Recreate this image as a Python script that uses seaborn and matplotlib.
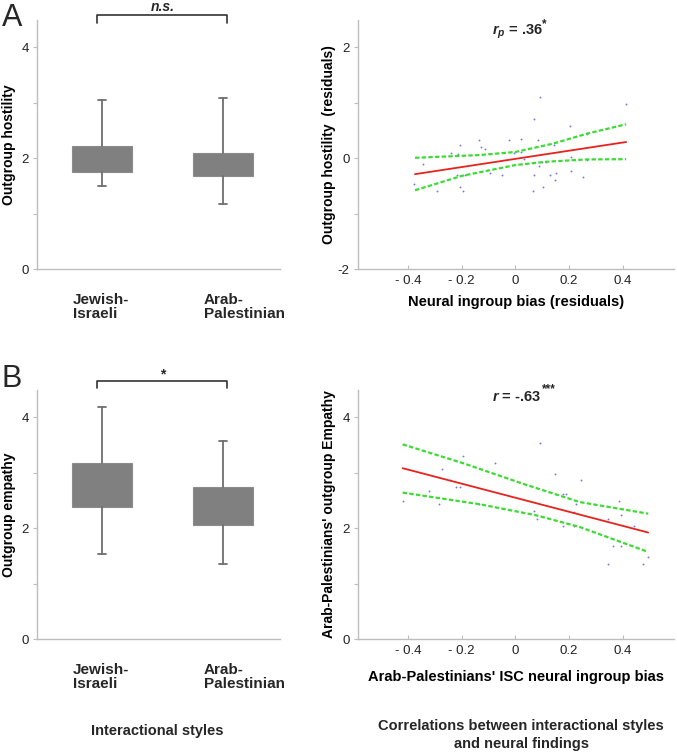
"""Interactional styles (box summaries) and their correlations with neural ingroup bias."""

import numpy as np
import pandas as pd
import matplotlib
matplotlib.use("Agg")
import matplotlib.pyplot as plt
import matplotlib.transforms as mtransforms
import seaborn as sns

# ── data ───────────────────────────────────────────────────────────────────────

groups = ["Jewish-\nIsraeli", "Arab-\nPalestinian"]

# panel A, left: outgroup hostility box summaries
host_whislo = [1.50, 1.18]
host_q1 = [1.75, 1.68]
host_med = [1.98, 1.89]
host_q3 = [2.22, 2.10]
host_whishi = [3.05, 3.08]

# panel B, left: outgroup empathy box summaries
emp_whislo = [1.54, 1.35]
emp_q1 = [2.38, 2.05]
emp_med = [2.78, 2.40]
emp_q3 = [3.17, 2.74]
emp_whishi = [4.19, 3.57]

# panel A, right: residual scatter
bias_res = [0.412, 0.069, 0.203, 0.268, -0.135, -0.025, 0.02, 0.084, -0.204, -0.129,
            -0.114, -0.238, -0.213, -0.004, 0.02, 0.143, 0.208, 0.034, 0.266, 0.098,
            0.115, -0.342, 0.089, -0.095, -0.217, -0.188, -0.05, 0.069, 0.13, 0.153,
            0.208, 0.147, 0.253, -0.377, -0.204, 0.104, -0.292, -0.194, 0.064, 0.09]
host_res = [0.97, 0.70, 0.58, 0.44, 0.32, 0.32, 0.35, 0.32, 0.23, 0.20,
            0.16, 0.10, 0.07, 0.10, 0.11, 0.23, 0.02, -0.02, -0.03, -0.07,
            -0.07, -0.10, -0.14, -0.26, -0.31, -0.31, -0.31, -0.31, -0.31, -0.26,
            -0.23, -0.40, -0.35, -0.47, -0.52, -0.52, -0.59, -0.59, -0.59, 1.10]
fitA_x = [-0.373, 0.412]
fitA_y = [-0.29, 0.29]
ciA_up_x = [-0.373, -0.135, 0.0, 0.14, 0.266, 0.412]
ciA_up_y = [0.005, 0.054, 0.11, 0.26, 0.44, 0.61]
ciA_lo_x = [-0.373, -0.198, 0.0, 0.115, 0.266, 0.412]
ciA_lo_y = [-0.58, -0.32, -0.126, -0.066, -0.024, -0.02]

# panel B, right: Arab-Palestinian participants
isc_bias = [0.09, -0.194, -0.077, -0.273, 0.148, 0.246, -0.244, -0.222, -0.204, -0.32,
            -0.419, -0.282, -0.135, 0.178, 0.188, 0.384, 0.226, 0.069, 0.218, 0.394,
            0.08, 0.345, 0.178, 0.218, 0.443, 0.365, 0.394, 0.494, 0.345, 0.473]
ap_empathy = [3.54, 3.30, 3.18, 3.06, 2.98, 2.86, 2.86, 2.74, 2.74, 2.67,
              2.49, 2.43, 2.43, 2.62, 2.62, 2.49, 2.43, 2.31, 2.29, 2.23,
              2.17, 2.17, 2.04, 2.04, 2.04, 1.68, 1.68, 1.48, 1.36, 1.36]
fitB_x = [-0.419, 0.494]
fitB_y = [3.08, 1.92]
ciB_up_x = [-0.419, -0.194, 0.028, 0.239, 0.494]
ciB_up_y = [3.51, 3.17, 2.80, 2.47, 2.26]
ciB_lo_x = [-0.419, -0.132, 0.078, 0.239, 0.494]
ciB_lo_y = [2.64, 2.43, 2.23, 2.02, 1.57]

res_xticks = [-0.4, -0.2, 0, 0.2, 0.4]
res_xticklabels = ["- 0.4", "- 0.2", "0", "0.2", "0.4"]

# ── style ──────────────────────────────────────────────────────────────────────

sns.set_theme(style="white")
plt.rcParams["font.family"] = ["Liberation Sans", "DejaVu Sans"]
plt.rcParams["mathtext.fontset"] = "custom"
plt.rcParams["mathtext.it"] = "Liberation Sans:italic:bold"
plt.rcParams["mathtext.rm"] = "Liberation Sans:bold"
plt.rcParams["mathtext.bf"] = "Liberation Sans:bold"

SPINE = "#bdbdbd"
TICKC = "#222222"
BOXC = "#808080"
WHISK = "#6e6e6e"

fig = plt.figure(figsize=(6.77, 7.52), dpi=100)
H = 249 / 752
axA1 = fig.add_axes([37 / 677, 1 - 269 / 752, 243 / 677, H])
axA2 = fig.add_axes([358 / 677, 1 - 269 / 752, 316 / 677, H])
axB1 = fig.add_axes([37 / 677, 1 - 639 / 752, 243 / 677, H])
axB2 = fig.add_axes([358 / 677, 1 - 639 / 752, 316 / 677, H])


def style_axes(ax):
    for s in ["top", "right"]:
        ax.spines[s].set_visible(False)
    for s in ["left", "bottom"]:
        ax.spines[s].set_color(SPINE)
        ax.spines[s].set_linewidth(1.0)
    ax.tick_params(axis="y", direction="out", length=3, width=0.8, color=SPINE,
                   labelsize=9.5, labelcolor=TICKC, pad=3, left=True)
    ax.tick_params(axis="x", direction="in", length=3, width=0.8, color=SPINE,
                   labelsize=9.5, labelcolor=TICKC, pad=4, bottom=True)


def box_panel(ax, whislo, q1, med, q3, whishi, ylabel, sig, bracket_y, text_y):
    stats = [dict(whislo=whislo[i], q1=q1[i], med=med[i], q3=q3[i], whishi=whishi[i])
             for i in range(len(groups))]
    ax.bxp(stats, positions=[0, 1], widths=0.5, showfliers=False, patch_artist=True,
           boxprops=dict(facecolor=BOXC, edgecolor="#8c8c8c", linewidth=0.8),
           whiskerprops=dict(color=WHISK, linewidth=1.3),
           capprops=dict(color=WHISK, linewidth=1.3),
           medianprops=dict(linewidth=0), capwidths=0.07)
    style_axes(ax)
    ax.set_xlim(-0.537, 1.47)
    ax.set_ylim(0, 4.49)
    ax.set_yticks([0, 1, 2, 3, 4])
    ax.set_yticklabels(["0", "", "2", "", "4"])
    ax.set_xticks([])
    ax.set_ylabel(ylabel, fontsize=10, fontweight="bold", color="black")
    ax.yaxis.set_label_coords(-0.085, 0.5)
    trans = mtransforms.blended_transform_factory(ax.transData, ax.transAxes)
    for xpos, lab in zip([-0.24, 0.843], groups):
        ax.text(xpos, -0.098, lab, transform=trans, ha="left", va="top",
                fontsize=11, fontweight="bold", linespacing=1.0)
    top, leg = bracket_y
    ax.plot([-0.04, -0.04, 1.03, 1.03], [leg, top, top, leg], color="#333333",
            linewidth=1.2, clip_on=False)
    ax.text(0.5, text_y, sig, ha="center", va="center", fontsize=10,
            fontweight="bold", fontstyle="italic" if sig == "n.s." else "normal",
            clip_on=False)


def corr_panel(ax, x, y, fx, fy, ux, uy, lx, ly, ylim, yticks, ylabels, ylabel,
               xlabel, xlabel_y, title, stars, title_y):
    sns.scatterplot(x=x, y=y, ax=ax, s=1.8, color="#3a3ad8", linewidth=0, alpha=0.7)
    sns.lineplot(x=fx, y=fy, ax=ax, color="#e8221c", linewidth=1.3, estimator=None)
    for cx, cy in [(ux, uy), (lx, ly)]:
        sns.lineplot(x=cx, y=cy, ax=ax, color="#3ddc35", linewidth=1.6,
                     linestyle=(0, (2.0, 1.0)), estimator=None)
    style_axes(ax)
    ax.set_xlim(-0.585, 0.59)
    ax.set_ylim(*ylim)
    ax.set_xticks(res_xticks)
    ax.set_xticklabels(res_xticklabels)
    ax.set_yticks(yticks)
    ax.set_yticklabels(ylabels)
    ax.set_ylabel(ylabel, fontsize=10, fontweight="bold", color="black")
    ax.yaxis.set_label_coords(-0.07, 0.5)
    ax.set_xlabel(xlabel, fontsize=10.5, fontweight="bold", color="black")
    ax.xaxis.set_label_coords(0.5, xlabel_y)
    ax.text(0.503, title_y, title, transform=ax.transAxes, ha="center", va="center",
            fontsize=10.5, fontweight="bold")
    ax.text(0.582, title_y + 0.03, stars, transform=ax.transAxes, ha="left",
            va="center", fontsize=8.5, fontweight="bold")


box_panel(axA1, host_whislo, host_q1, host_med, host_q3, host_whishi,
          "Outgroup hostility", "n.s.", (4.58, 4.44), 4.73)
box_panel(axB1, emp_whislo, emp_q1, emp_med, emp_q3, emp_whishi,
          "Outgroup empathy", "*", (4.65, 4.52), 4.77)

corr_panel(axA2, bias_res, host_res, fitA_x, fitA_y, ciA_up_x, ciA_up_y,
           ciA_lo_x, ciA_lo_y, (-2, 2.49), [-2, -1, 0, 1, 2], ["-2", "", "0", "", "2"],
           "Outgroup hostility  (residuals)", "Neural ingroup bias (residuals)", -0.105,
           r"$r_p$ = .36", "*", 0.953)
corr_panel(axB2, isc_bias, ap_empathy, fitB_x, fitB_y, ciB_up_x, ciB_up_y,
           ciB_lo_x, ciB_lo_y, (0, 4.49), [0, 1, 2, 3, 4], ["0", "", "2", "", "4"],
           "Arab-Palestinians' outgroup Empathy", "Arab-Palestinians' ISC neural ingroup bias",
           -0.125, r"$r$ = -.63", "***", 0.973)

# panel letters and column captions
fig.text(2 / 677, 1 - 26 / 752, "A", fontsize=22, ha="left", va="baseline")
fig.text(2 / 677, 1 - 387 / 752, "B", fontsize=22, ha="left", va="baseline")
fig.text(157 / 677, 1 - 731 / 752, "Interactional styles", fontsize=10.5,
         fontweight="bold", ha="center", va="center")
fig.text(521 / 677, 1 - 735 / 752,
         "Correlations between interactional styles\nand neural findings",
         fontsize=10.5, fontweight="bold", ha="center", va="center", linespacing=1.3)

fig.savefig("out.png", dpi=100)
